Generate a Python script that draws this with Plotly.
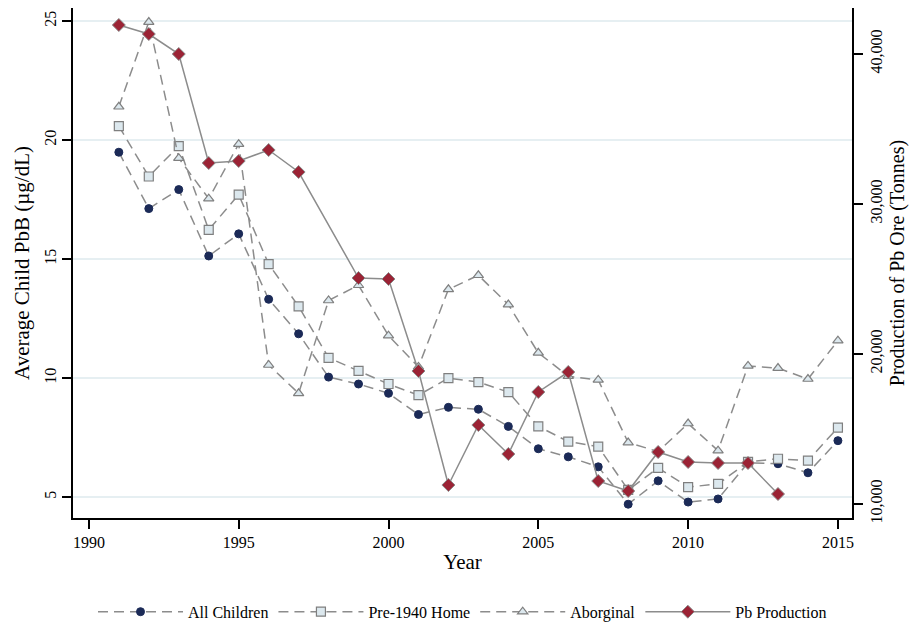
import plotly.graph_objects as go

years = list(range(1991, 2016))

all_children = [19.49, 17.12, 17.92, 15.13, 16.06, 13.31, 11.86, 10.04, 9.75, 9.36,
                8.47, 8.77, 8.69, 7.97, 7.03, 6.69, 6.27, 4.70, 5.68, 4.79,
                4.92, 6.44, 6.40, 6.02, 7.37]

pre1940_home = [20.59, 18.47, 19.75, 16.23, 17.71, 14.79, 13.01, 10.85, 10.30, 9.75,
                9.28, 10.00, 9.83, 9.41, 7.97, 7.33, 7.12, 5.30, 6.23, 5.42,
                5.55, 6.48, 6.61, 6.53, 7.92]

aboriginal = [21.40, 24.96, 19.24, 17.54, 19.83, 10.55, 9.36, 13.26, 13.90, 11.78,
              10.47, 13.73, 14.32, 13.09, 11.06, 10.08, 9.92, 7.29, 6.91, 8.09,
              6.95, 10.51, 10.42, 9.96, 11.57]

pb_years = [1991, 1992, 1993, 1994, 1995, 1996, 1997, 1999, 2000, 2001, 2002,
            2003, 2004, 2005, 2006, 2007, 2008, 2009, 2010, 2011, 2012, 2013]
pb_production = [41933, 41333, 40000, 32733, 32867, 33600, 32133, 25067, 25000, 18867,
                 11267, 15267, 13333, 17467, 18800, 11533, 10867, 13467, 12800, 12733,
                 12733, 10667]

FONT = "Liberation Serif"
LINE_GRAY = "#8c8c8c"
DASH = "10px,6px"

fig = go.Figure()

fig.add_trace(go.Scatter(
    x=years, y=all_children, name="All Children", mode="lines+markers",
    line=dict(color=LINE_GRAY, width=1.5, dash=DASH),
    marker=dict(symbol="circle", size=8, color="#1b2a57",
                line=dict(color="#1b2a57", width=1)),
))
fig.add_trace(go.Scatter(
    x=years, y=pre1940_home, name="Pre-1940 Home", mode="lines+markers",
    line=dict(color=LINE_GRAY, width=1.5, dash=DASH),
    marker=dict(symbol="square", size=9, color="#dce8ee",
                line=dict(color="#7f7f7f", width=1.2)),
))
fig.add_trace(go.Scatter(
    x=years, y=aboriginal, name="Aborginal", mode="lines+markers",
    line=dict(color=LINE_GRAY, width=1.5, dash=DASH),
    marker=dict(symbol="triangle-up", size=9, color="#dce8ee",
                line=dict(color="#7f7f7f", width=1.2)),
))
fig.add_trace(go.Scatter(
    x=pb_years, y=pb_production, name="Pb Production", mode="lines+markers",
    yaxis="y2",
    line=dict(color=LINE_GRAY, width=1.5),
    marker=dict(symbol="diamond", size=10, color="#9b2335",
                line=dict(color="#8a8a8a", width=1)),
))

axis_common = dict(
    showline=True, linecolor="black", linewidth=1.5,
    ticks="outside", ticklen=9, tickcolor="black", tickwidth=1.5,
    tickfont=dict(family=FONT, size=16, color="black"),
    zeroline=False,
)

fig.update_layout(
    width=918, height=623,
    margin=dict(l=73, r=66, t=8, b=105, autoexpand=False),
    paper_bgcolor="white", plot_bgcolor="white",
    font=dict(family=FONT, color="black"),
    xaxis=dict(
        range=[1989.47, 2015.47], tickmode="array",
        tickvals=[1990, 1995, 2000, 2005, 2010, 2015],
        showgrid=False,
        title=dict(text="Year", font=dict(family=FONT, size=21), standoff=4),
        **axis_common,
    ),
    yaxis=dict(
        range=[4.12, 25.55], tickmode="array", tickvals=[5, 10, 15, 20, 25],
        tickangle=-90,
        showgrid=True, gridcolor="#e6eff2", gridwidth=1.5,
        title=dict(text="Average Child PbB (µg/dL)", font=dict(family=FONT, size=21), standoff=6),
        **axis_common,
    ),
    yaxis2=dict(
        overlaying="y", side="right",
        range=[9067, 43067], tickmode="array",
        tickvals=[10000, 20000, 30000, 40000], tickformat=",",
        tickangle=-90, showgrid=False,
        title=dict(text="Production of Pb Ore (Tonnes)", font=dict(family=FONT, size=20), standoff=6),
        **axis_common,
    ),
    legend=dict(
        orientation="h", x=0.5, xanchor="center",
        yref="container", y=0.018, yanchor="middle",
        font=dict(family=FONT, size=16, color="black"),
        itemwidth=85, bgcolor="rgba(0,0,0,0)",
    ),
    showlegend=True,
)

fig.write_html("out.html")
